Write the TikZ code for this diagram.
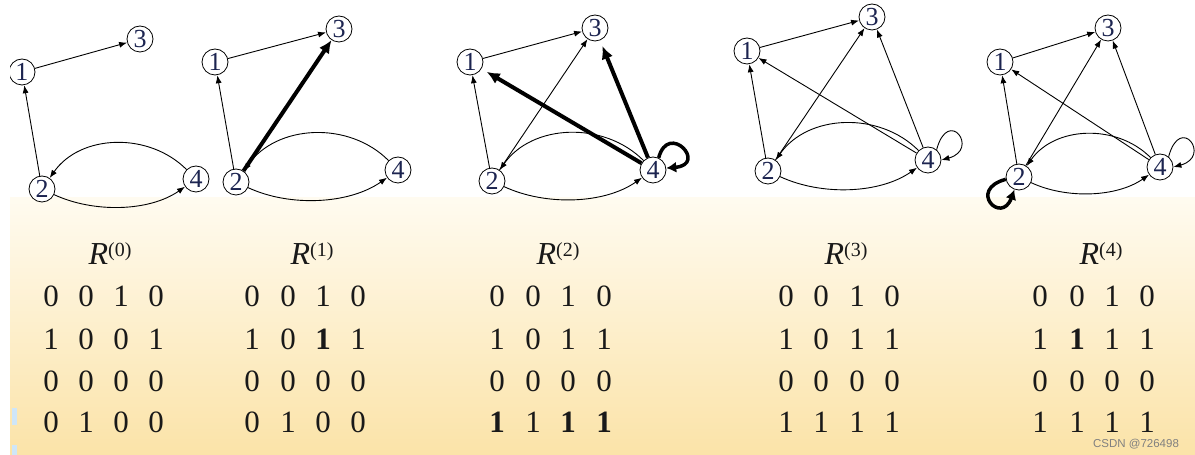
\documentclass[tikz,border=0pt]{standalone}
\usepackage{fontspec}
\setmainfont{Liberation Serif}
\newfontfamily\wmfont{Liberation Sans}
\usetikzlibrary{arrows.meta}
\definecolor{navy}{HTML}{1C2450}
\definecolor{creamtop}{HTML}{FFFBF0}
\definecolor{creambot}{HTML}{FBE3A8}
\definecolor{lblue}{HTML}{CFE6F8}
\tikzset{
  vtx/.style={circle, draw, line width=0.8pt, fill=white, minimum size=26pt, inner sep=0pt,
              text=navy, font=\fontsize{26}{26}\selectfont},
  arr/.style={-{Latex[length=8pt,width=6pt]}, line width=0.9pt},
  thk/.style={-{Latex[length=13pt,width=12pt]}, line width=4pt},
  uparc/.style={arr, out=135, in=55},
  lowarc/.style={arr, out=-25, in=-145, looseness=0.85},
  num/.style={anchor=base, inner sep=0pt, text=black!90, font=\fontsize{31}{31}\selectfont},
  bnum/.style={num, font=\fontsize{31}{31}\selectfont\bfseries},
  lab/.style={anchor=base, inner sep=0pt, text=black!90, font=\fontsize{32}{32}\selectfont},
}
\newcommand{\Rlab}[1]{\textit{R}\raisebox{8pt}{\fontsize{20}{20}\selectfont(#1)}}
\begin{document}
\begin{tikzpicture}[x=1pt,y=1pt]
\useasboundingbox (0,0) rectangle (1195,455);
% background
\fill[white] (0,0) rectangle (1195,455);
\shade[top color=creamtop, bottom color=creambot] (0,0) rectangle (1195,257);
\fill[lblue] (12,30) rectangle (17,47);
\fill[lblue] (12,0) rectangle (17,10);

% ---------- graph 0
\node[vtx] (a1) at (22,383) {1};
\node[vtx] (a3) at (140,416) {3};
\node[vtx] (a2) at (42,266) {2};
\node[vtx] (a4) at (196,276) {4};
\draw[arr] (a1) -- (a3);
\draw[arr] (a2) -- (a1);
\draw[lowarc] (a2) to (a4);
\draw[uparc] (a4) to (a2);

% ---------- graph 1
\node[vtx] (b1) at (215,393) {1};
\node[vtx] (b3) at (339,426) {3};
\node[vtx] (b2) at (236,273) {2};
\node[vtx] (b4) at (398,285) {4};
\draw[arr] (b1) -- (b3);
\draw[arr] (b2) -- (b1);
\draw[lowarc] (b2) to (b4);
\draw[uparc] (b4) to (b2);
\draw[thk] (b2) -- (b3);

% ---------- graph 2
\node[vtx] (c1) at (470,393) {1};
\node[vtx] (c3) at (595,427) {3};
\node[vtx] (c2) at (492,274) {2};
\node[vtx] (c4) at (653,285) {4};
\draw[arr] (c1) -- (c3);
\draw[arr] (c2) -- (c1);
\draw[arr] (c2) -- (c3);
\draw[lowarc] (c2) to (c4);
\draw[uparc] (c4) to (c2);
\draw[thk, shorten >=6pt] (c4) -- (c1);
\draw[thk, shorten >=6pt] (c4) -- (c3);
\draw[thk, -{Latex[length=10pt,width=11pt]}, line width=3.5pt] (c4.65) .. controls +(75:38) and +(5:42) .. (c4.8);

% ---------- graph 3
\node[vtx] (d1) at (747,404) {1};
\node[vtx] (d3) at (872,438) {3};
\node[vtx] (d2) at (768,284) {2};
\node[vtx] (d4) at (928,295) {4};
\draw[arr] (d1) -- (d3);
\draw[arr] (d2) -- (d1);
\draw[arr] (d2) -- (d3);
\draw[arr] (d4) -- (d1);
\draw[arr] (d4) -- (d3);
\draw[lowarc] (d2) to (d4);
\draw[uparc] (d4) to (d2);
\draw[arr] (d4.50) .. controls +(75:45) and +(15:40) .. (d4.0);

% ---------- graph 4
\node[vtx] (e1) at (1000,393) {1};
\node[vtx] (e3) at (1108,427) {3};
\node[vtx] (e2) at (1019,278) {2};
\node[vtx] (e4) at (1160,288) {4};
\draw[arr] (e1) -- (e3);
\draw[arr] (e2) -- (e1);
\draw[arr] (e2) -- (e3);
\draw[arr] (e4) -- (e1);
\draw[arr] (e4) -- (e3);
\draw[lowarc] (e2) to (e4);
\draw[uparc] (e4) to (e2);
\draw[arr] (e4.50) .. controls +(75:45) and +(15:40) .. (e4.0);
\draw[thk, -{Latex[length=10pt,width=11pt]}, line width=3.5pt] (e2.190) .. controls +(195:40) and +(250:38) .. (e2.250);

% ---------- labels
\node[lab] (r0) at (110,190) {\Rlab{0}};
\node[lab] (r1) at (312,190) {\Rlab{1}};
\node[lab] (r2) at (558,190) {\Rlab{2}};
\node[lab] (r3) at (846,190) {\Rlab{3}};
\node[lab] (r4) at (1101,190) {\Rlab{4}};

% ---------- matrices
% M0
\foreach \x/\v [count=\i] in {51/0,86/0,121/1,156/0} \node[num] (m0a\i) at (\x,148) {\v};
\foreach \x/\v [count=\i] in {51/1,86/0,121/0,156/1} \node[num] (m0b\i) at (\x,105) {\v};
\foreach \x/\v [count=\i] in {51/0,86/0,121/0,156/0} \node[num] (m0c\i) at (\x,63) {\v};
\foreach \x/\v [count=\i] in {51/0,86/1,121/0,156/0} \node[num] (m0d\i) at (\x,22) {\v};
% M1
\foreach \x/\v [count=\i] in {252/0,288/0,323/1,358/0} \node[num] (m1a\i) at (\x,148) {\v};
\node[num] (m1b1) at (252,105) {1};
\node[num] (m1b2) at (288,105) {0};
\node[bnum] (m1b3) at (323,105) {1};
\node[num] (m1b4) at (358,105) {1};
\foreach \x/\v [count=\i] in {252/0,288/0,323/0,358/0} \node[num] (m1c\i) at (\x,63) {\v};
\foreach \x/\v [count=\i] in {252/0,288/1,323/0,358/0} \node[num] (m1d\i) at (\x,22) {\v};
% M2
\foreach \x/\v [count=\i] in {497/0,533/0,568/1,604/0} \node[num] (m2a\i) at (\x,148) {\v};
\foreach \x/\v [count=\i] in {497/1,533/0,568/1,604/1} \node[num] (m2b\i) at (\x,105) {\v};
\foreach \x/\v [count=\i] in {497/0,533/0,568/0,604/0} \node[num] (m2c\i) at (\x,63) {\v};
\node[bnum] (m2d1) at (497,22) {1};
\node[num] (m2d2) at (533,22) {1};
\node[bnum] (m2d3) at (568,22) {1};
\node[bnum] (m2d4) at (604,22) {1};
% M3
\foreach \x/\v [count=\i] in {786/0,821/0,857/1,892/0} \node[num] (m3a\i) at (\x,148) {\v};
\foreach \x/\v [count=\i] in {786/1,821/0,857/1,892/1} \node[num] (m3b\i) at (\x,105) {\v};
\foreach \x/\v [count=\i] in {786/0,821/0,857/0,892/0} \node[num] (m3c\i) at (\x,63) {\v};
\foreach \x/\v [count=\i] in {786/1,821/1,857/1,892/1} \node[num] (m3d\i) at (\x,22) {\v};
% M4
\foreach \x/\v [count=\i] in {1040/0,1077/0,1112/1,1147/0} \node[num] (m4a\i) at (\x,148) {\v};
\node[num] (m4b1) at (1040,105) {1};
\node[bnum] (m4b2) at (1077,105) {1};
\node[num] (m4b3) at (1112,105) {1};
\node[num] (m4b4) at (1147,105) {1};
\foreach \x/\v [count=\i] in {1040/0,1077/0,1112/0,1147/0} \node[num] (m4c\i) at (\x,63) {\v};
\foreach \x/\v [count=\i] in {1040/1,1077/1,1112/1,1147/1} \node[num] (m4d\i) at (\x,22) {\v};

% watermark
\node[anchor=base, inner sep=0pt, text=black!50, font=\wmfont\fontsize{11.5}{11.5}\selectfont] (wm) at (1136,7) {CSDN @726498};

% left white strip
\fill[white] (0,0) rectangle (10,455);
\end{tikzpicture}
\end{document}
